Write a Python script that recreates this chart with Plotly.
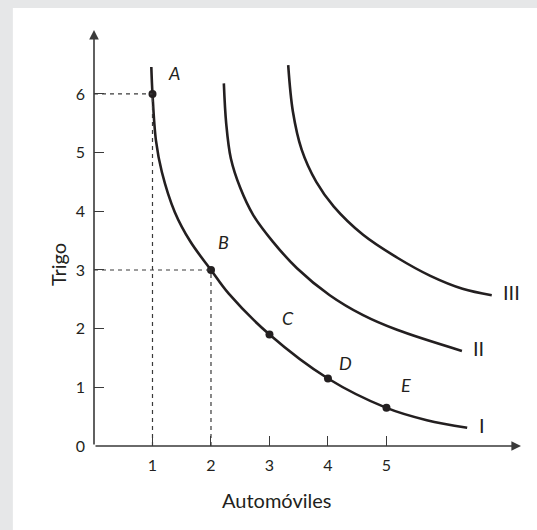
import plotly.graph_objects as go

# curves (Automóviles, Trigo)
curve_i_x = [0.98, 1.0, 1.06, 1.16, 1.38, 1.65, 2.0, 2.3, 3.0, 4.0, 5.0, 5.69, 6.38]
curve_i_y = [6.46, 6.0, 5.2, 4.67, 3.99, 3.48, 3.0, 2.6, 1.9, 1.15, 0.65, 0.44, 0.31]
curve_ii_x = [2.22, 2.26, 2.34, 2.50, 2.72, 3.06, 3.47, 4.03, 4.60, 5.18, 6.29]
curve_ii_y = [6.18, 5.50, 4.90, 4.40, 3.94, 3.48, 3.03, 2.57, 2.23, 1.98, 1.62]
curve_iii_x = [3.32, 3.40, 3.55, 3.80, 4.10, 4.60, 5.20, 5.75, 6.30, 6.80]
curve_iii_y = [6.49, 5.70, 5.05, 4.50, 4.08, 3.60, 3.20, 2.90, 2.68, 2.57]

# marked points on curve I
point_names = ["A", "B", "C", "D", "E"]
point_x = [1, 2, 3, 4, 5]
point_y = [6, 3, 1.9, 1.15, 0.65]

x_ticks = [1, 2, 3, 4, 5]
y_ticks = [0, 1, 2, 3, 4, 5, 6]

INK = "#231f20"
AXIS = "#3a3a3a"
FONT = "Lato, 'Open Sans', sans-serif"

fig = go.Figure()

for xs, ys in [(curve_i_x, curve_i_y), (curve_ii_x, curve_ii_y), (curve_iii_x, curve_iii_y)]:
    fig.add_trace(go.Scatter(
        x=xs, y=ys, mode="lines",
        line=dict(color=INK, width=2.6, shape="spline", smoothing=1.0),
        hoverinfo="skip", cliponaxis=False
    ))

fig.add_trace(go.Scatter(
    x=point_x, y=point_y, mode="markers",
    marker=dict(color=INK, size=8), cliponaxis=False
))

# dashed guide lines for A and B
for px, py in zip(point_x[:2], point_y[:2]):
    fig.add_shape(type="line", x0=0, y0=py, x1=px, y1=py,
                  line=dict(color=AXIS, width=1.2, dash="4px,4px"))
    fig.add_shape(type="line", x0=px, y0=0, x1=px, y1=py,
                  line=dict(color=AXIS, width=1.2, dash="4px,4px"))

# white panel on gray page
fig.add_shape(type="rect", xref="paper", yref="paper",
              x0=-0.19, x1=1.1, y0=-0.3, y1=1.053,
              fillcolor="white", line=dict(width=0), layer="below")

# axis arrows
fig.add_annotation(x=7.3, y=0, ax=0, ay=0, xref="x", yref="y", axref="x", ayref="y",
                   showarrow=True, arrowhead=2, arrowsize=1.2, arrowwidth=1.6,
                   arrowcolor=AXIS, text="")
fig.add_annotation(x=0, y=7.09, ax=0, ay=0, xref="x", yref="y", axref="x", ayref="y",
                   showarrow=True, arrowhead=2, arrowsize=1.2, arrowwidth=1.6,
                   arrowcolor=AXIS, text="")

# point letters
letter_shift = [(22, 21), (13, 28), (19, 17), (18, 16), (20, 23)]
for name, px, py, (dx, dy) in zip(point_names, point_x, point_y, letter_shift):
    fig.add_annotation(x=px, y=py, text=f"<i>{name}</i>", showarrow=False,
                       xshift=dx, yshift=dy, font=dict(family=FONT, size=18, color=INK))

# curve names at the line ends
for name, xs, ys, dx in [("I", curve_i_x, curve_i_y, 10),
                         ("II", curve_ii_x, curve_ii_y, 9),
                         ("III", curve_iii_x, curve_iii_y, 9)]:
    fig.add_annotation(x=xs[-1], y=ys[-1], text=name, showarrow=False,
                       xanchor="left", xshift=dx, yshift=3,
                       font=dict(family=FONT, size=20, color=INK))

# axis titles
fig.add_annotation(x=0.428, y=-0.13, xref="paper", yref="paper", text="Automóviles",
                   showarrow=False, yanchor="middle",
                   font=dict(family=FONT, size=20, color=INK))
fig.add_annotation(x=-0.117, y=0.435, xref="paper", yref="paper", text="Trigo",
                   showarrow=False, textangle=-90,
                   font=dict(family=FONT, size=20, color=INK))

fig.update_xaxes(range=[0, 7.3], tickvals=x_ticks, ticks="inside", ticklen=10,
                 tickwidth=1.4, tickcolor=AXIS, showgrid=False, zeroline=False,
                 showline=False, ticklabelstandoff=8,
                 tickfont=dict(family=FONT, size=16, color=INK))
fig.update_yaxes(range=[0, 7.09], tickvals=y_ticks, ticks="inside", ticklen=10,
                 tickwidth=1.4, tickcolor=AXIS, showgrid=False, zeroline=False,
                 showline=False, ticklabelstandoff=8,
                 tickfont=dict(family=FONT, size=16, color=INK))

fig.update_layout(
    width=537, height=530,
    margin=dict(l=94, r=16, t=30, b=84),
    paper_bgcolor="#e6e7e8", plot_bgcolor="white",
    showlegend=False
)

fig.write_html("out.html", config={"displayModeBar": False},
               post_script="document.body.style.margin='0px';")
